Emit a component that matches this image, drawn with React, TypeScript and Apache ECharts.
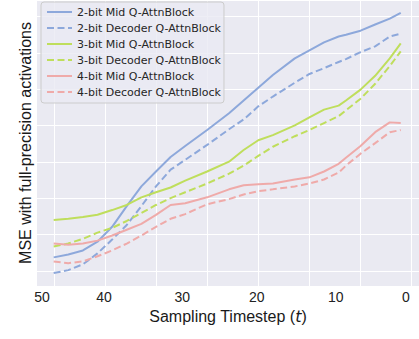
import React, { useEffect, useRef } from "react";
import * as echarts from "echarts";

// sampling step index (0 = first sampled timestep)
const steps = [0, 2, 4, 6, 8, 10, 12, 14, 16, 18, 21, 24, 26, 28, 30, 33, 35, 37, 39, 40, 42, 44, 46, 47.5];

const mid2 = [0.38, 0.46, 0.57, 0.81, 1.22, 1.79, 2.33, 2.74, 3.14, 3.44, 3.88, 4.34, 4.69, 5.04, 5.39, 5.85, 6.07, 6.29, 6.45, 6.5, 6.61, 6.78, 6.94, 7.1];
const dec2 = [-0.05, 0.03, 0.19, 0.49, 0.87, 1.27, 1.79, 2.33, 2.79, 3.06, 3.47, 3.9, 4.17, 4.53, 4.8, 5.18, 5.42, 5.58, 5.75, 5.83, 6.02, 6.18, 6.45, 6.53];
const mid3 = [1.41, 1.44, 1.49, 1.55, 1.68, 1.82, 2.03, 2.17, 2.3, 2.49, 2.74, 3.01, 3.33, 3.6, 3.74, 4.01, 4.23, 4.44, 4.55, 4.69, 4.99, 5.37, 5.85, 6.26];
const dec3 = [0.68, 0.76, 0.89, 1.06, 1.19, 1.38, 1.6, 1.82, 2.01, 2.17, 2.41, 2.68, 2.9, 3.17, 3.42, 3.71, 3.88, 4.07, 4.26, 4.42, 4.74, 5.15, 5.64, 6.04];
const mid4 = [0.76, 0.73, 0.76, 0.84, 0.98, 1.14, 1.3, 1.55, 1.82, 1.87, 2.03, 2.25, 2.36, 2.39, 2.41, 2.52, 2.58, 2.74, 2.95, 3.12, 3.44, 3.82, 4.09, 4.07];
const dec4 = [0.27, 0.22, 0.27, 0.41, 0.57, 0.76, 0.98, 1.22, 1.44, 1.57, 1.84, 1.98, 2.11, 2.2, 2.25, 2.33, 2.41, 2.52, 2.71, 2.9, 3.23, 3.52, 3.82, 3.88];

const seriesNames = [
  "2-bit Mid Q-AttnBlock",
  "2-bit Decoder Q-AttnBlock",
  "3-bit Mid Q-AttnBlock",
  "3-bit Decoder Q-AttnBlock",
  "4-bit Mid Q-AttnBlock",
  "4-bit Decoder Q-AttnBlock",
];
const seriesValues = [mid2, dec2, mid3, dec3, mid4, dec4];
const seriesColors = ["#8DA8DB", "#8DA8DB", "#BFDE5C", "#BFDE5C", "#EFAAA9", "#EFAAA9"];
const seriesDashed = [false, true, false, true, false, true];

// x tick labels (timestep) and where they sit on the step axis
const tickPositions = [-1.6, 6.9, 17.6, 27.8, 38.6, 48.2];
const tickLabels = ["50", "40", "30", "20", "10", "0"];

export default function App() {
  const ref = useRef<HTMLDivElement>(null);
  useEffect(() => {
    if (!ref.current) return;
    const chart = echarts.init(ref.current, null, { renderer: "svg" });
    const series = seriesNames.map((name, i) => ({
      name,
      type: "line",
      xAxisIndex: 0,
      yAxisIndex: 0,
      data: steps.map((s, j) => [s, seriesValues[i][j]]),
      symbol: "none",
      showSymbol: false,
      clip: false,
      lineStyle: {
        color: seriesColors[i],
        width: 2,
        type: seriesDashed[i] ? [7, 3.5] : "solid",
      },
      itemStyle: { color: seriesColors[i] },
    }));
    chart.setOption({
      animation: false,
      grid: [
        { left: 37, right: -7, top: -4, bottom: 53, show: true, backgroundColor: "#EAEAF2", borderWidth: 0 },
        { left: 54, right: -7, top: -4, bottom: 53 },
        { left: 37, right: -7, top: -4, bottom: 68 },
      ],
      legend: {
        orient: "vertical",
        left: 41,
        top: 2,
        padding: [4, 3, 5, 5],
        itemWidth: 25,
        itemHeight: 12,
        itemGap: 4,
        backgroundColor: "rgba(234,234,242,0.8)",
        borderColor: "#CCCCCC",
        borderWidth: 1,
        borderRadius: 3,
        itemStyle: { opacity: 0 },
        textStyle: { fontFamily: "DejaVu Sans", fontSize: 11, color: "#262626", lineHeight: 12 },
        data: seriesNames,
      },
      xAxis: [
        {
          gridIndex: 0,
          type: "value",
          min: -2.284,
          max: 50,
          axisLine: { show: false },
          axisTick: { show: false },
          splitLine: { show: false },
          axisLabel: {
            customValues: tickPositions,
            formatter: (v: number) => {
              let best = 0;
              tickPositions.forEach((p, k) => {
                if (Math.abs(p - v) < Math.abs(tickPositions[best] - v)) best = k;
              });
              return tickLabels[best];
            },
            fontFamily: "Liberation Sans",
            fontSize: 14,
            color: "#222222",
            margin: 4,
          },
          name: "Sampling Timestep ({i|t})",
          nameLocation: "middle",
          nameGap: 21,
          nameTextStyle: {
            fontFamily: "Liberation Sans",
            fontSize: 16,
            color: "#1a1a1a",
            rich: { i: { fontFamily: "DejaVu Sans", fontStyle: "italic", fontSize: 16, color: "#1a1a1a" } },
          },
        },
        {
          gridIndex: 1,
          type: "value",
          min: 0,
          max: 50,
          interval: 7,
          axisLine: { show: false },
          axisTick: { show: false },
          axisLabel: { show: false },
          splitLine: { show: true, lineStyle: { color: "#FFFFFF", width: 1 } },
        },
        {
          gridIndex: 2,
          type: "value",
          min: 0,
          max: 1,
          axisLine: { show: false },
          axisTick: { show: false },
          axisLabel: { show: false },
          splitLine: { show: false },
        },
      ],
      yAxis: [
        {
          gridIndex: 0,
          type: "value",
          min: -0.4065,
          max: 7.453,
          axisLine: { show: false },
          axisTick: { show: false },
          axisLabel: { show: false },
          splitLine: { show: false },
          name: "MSE with full-precision activations",
          nameLocation: "middle",
          nameGap: 4,
          nameTextStyle: { fontFamily: "Liberation Sans", fontSize: 16, color: "#1a1a1a" },
        },
        {
          gridIndex: 1,
          type: "value",
          min: 0,
          max: 1,
          axisLine: { show: false },
          axisTick: { show: false },
          axisLabel: { show: false },
          splitLine: { show: false },
        },
        {
          gridIndex: 2,
          type: "value",
          min: 0,
          max: 7.453,
          interval: 1,
          axisLine: { show: false },
          axisTick: { show: false },
          axisLabel: { show: false },
          splitLine: { show: true, lineStyle: { color: "#FFFFFF", width: 1 } },
        },
      ],
      series,
    });
    return () => chart.dispose();
  }, []);
  return (
    <div
      ref={ref}
      style={{ position: "fixed", left: 0, top: 0, width: 419, height: 339, background: "#ffffff" }}
    />
  );
}
